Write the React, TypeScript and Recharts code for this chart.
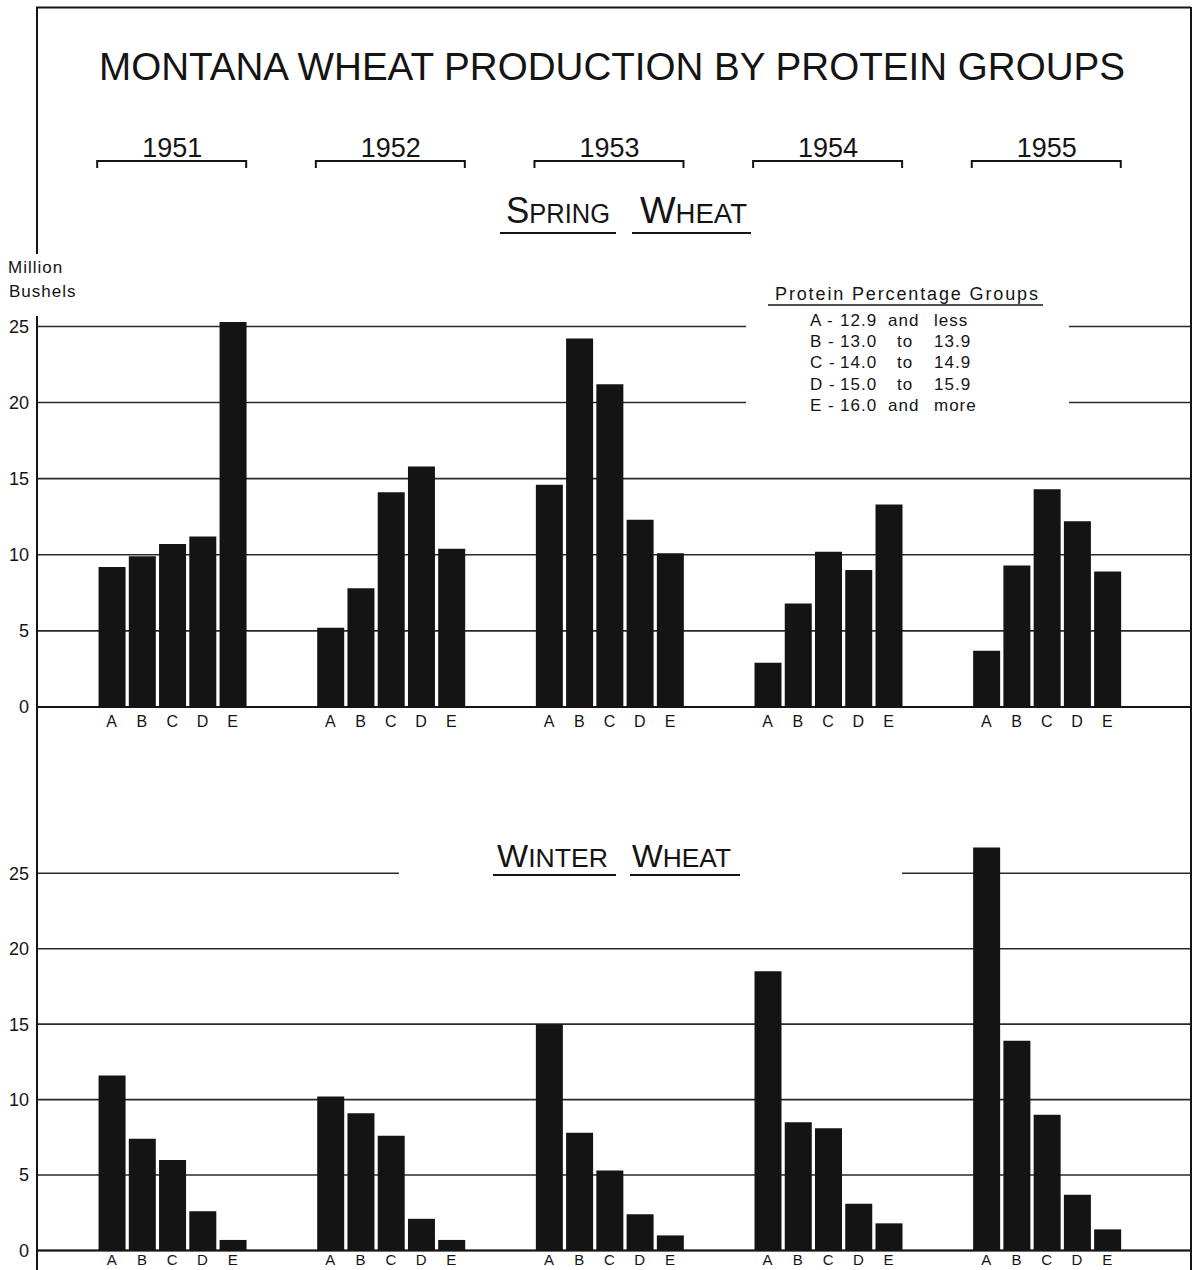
import React from "react";
import { BarChart, Bar, XAxis, YAxis, CartesianGrid } from "recharts";

const YEARS = ["1951", "1952", "1953", "1954", "1955"];
const GROUPS = ["A", "B", "C", "D", "E"];
const Y_TICKS = [0, 5, 10, 15, 20, 25];

// million bushels, groups A..E for each year
const SPRING_1951 = [9.2, 9.9, 10.7, 11.2, 25.3];
const SPRING_1952 = [5.2, 7.8, 14.1, 15.8, 10.4];
const SPRING_1953 = [14.6, 24.2, 21.2, 12.3, 10.1];
const SPRING_1954 = [2.9, 6.8, 10.2, 9.0, 13.3];
const SPRING_1955 = [3.7, 9.3, 14.3, 12.2, 8.9];

const WINTER_1951 = [11.6, 7.4, 6.0, 2.6, 0.7];
const WINTER_1952 = [10.2, 9.1, 7.6, 2.1, 0.7];
const WINTER_1953 = [15.0, 7.8, 5.3, 2.4, 1.0];
const WINTER_1954 = [18.5, 8.5, 8.1, 3.1, 1.8];
const WINTER_1955 = [26.7, 13.9, 9.0, 3.7, 1.4];

const LEGEND_TITLE = "Protein Percentage Groups";
const LEGEND_ROWS = [
  ["A -", "12.9", "and", "less"],
  ["B -", "13.0", "to", "13.9"],
  ["C -", "14.0", "to", "14.9"],
  ["D -", "15.0", "to", "15.9"],
  ["E -", "16.0", "and", "more"],
];

const SPRING = [SPRING_1951, SPRING_1952, SPRING_1953, SPRING_1954, SPRING_1955];
const WINTER = [WINTER_1951, WINTER_1952, WINTER_1953, WINTER_1954, WINTER_1955];

const FONT = '"Liberation Sans", Arial, sans-serif';
const INK = "#141414";

// x layout: bars one unit apart, year groups STEP units apart
const STEP = 7.228;
const X_MIN = -2.469;
const X_MAX = 35.68;
const PLOT_LEFT = 37;
const PLOT_RIGHT = 1191;
const BAR = 27;

const px = (v: number) => PLOT_LEFT + ((v - X_MIN) * (PLOT_RIGHT - PLOT_LEFT)) / (X_MAX - X_MIN);

const toRows = (series: number[][]) =>
  series.flatMap((vals, g) =>
    vals.map((v, i) => ({ x: g * STEP + i, v, year: YEARS[g], group: GROUPS[i] }))
  );

const springRows = toRows(SPRING);
const winterRows = toRows(WINTER);
const xTicks = springRows.map((r) => r.x);

type PanelProps = {
  rows: any[];
  top: number;
  height: number;
  axisHeight: number;
  yMax: number;
  letterSize: number;
  letterGap: number;
};

const Panel = ({ rows, top, height, axisHeight, yMax, letterSize, letterGap }: PanelProps) => (
  <div style={{ position: "absolute", left: 0, top }}>
    <BarChart width={1197} height={height} data={rows} margin={{ top: 0, right: 1197 - PLOT_RIGHT, bottom: 0, left: 0 }}>
      <CartesianGrid vertical={false} syncWithTicks stroke="#2a2a2a" strokeWidth={1.6} />
      <XAxis
        dataKey="x"
        type="number"
        domain={[X_MIN, X_MAX]}
        ticks={xTicks}
        interval={0}
        allowDataOverflow
        height={axisHeight}
        tickFormatter={(_v: number, i: number) => GROUPS[i % 5]}
        axisLine={{ stroke: INK, strokeWidth: 2 }}
        tickLine={false}
        tickSize={2}
        tickMargin={letterGap}
        tick={{ fill: INK, fontSize: letterSize, fontFamily: FONT }}
      />
      <YAxis
        type="number"
        domain={[0, yMax]}
        ticks={Y_TICKS}
        interval={0}
        width={PLOT_LEFT}
        axisLine={false}
        tickLine={false}
        tick={{ fill: INK, fontSize: 18, fontFamily: FONT }}
      />
      <Bar dataKey="v" fill={INK} barSize={BAR} isAnimationActive={false} />
    </BarChart>
  </div>
);

const SmallCaps = ({ x, y, w, big, rest, bigSize, smallSize }: any) => (
  <text x={x} y={y} textLength={w} lengthAdjust="spacingAndGlyphs" fill={INK} fontFamily={FONT}>
    <tspan fontSize={bigSize}>{big}</tspan>
    <tspan fontSize={smallSize}>{rest}</tspan>
  </text>
);

export default function App() {
  return (
    <div style={{ position: "absolute", left: 0, top: 0, width: 1197, height: 1270, background: "#fff", overflow: "hidden" }}>
      <Panel rows={springRows} top={296} height={441} axisHeight={30} yMax={27} letterSize={16} letterGap={7} />
      <Panel rows={winterRows} top={828} height={442} axisHeight={19.5} yMax={28} letterSize={15} letterGap={2} />

      <svg width={1197} height={1270} style={{ position: "absolute", left: 0, top: 0, pointerEvents: "none" }}>
        {/* gaps in the gridlines behind legend and winter title */}
        <rect x={746} y={312} width={323} height={104} fill="#fff" />
        <rect x={399} y={864} width={503} height={16} fill="#fff" />

        {/* frame */}
        <g stroke={INK} strokeWidth={2} fill="none">
          <line x1={36} y1={7.5} x2={1191} y2={7.5} />
          <line x1={37} y1={7} x2={37} y2={254} />
          <line x1={37} y1={316} x2={37} y2={1270} />
          <line x1={1191} y1={7} x2={1191} y2={1270} />
        </g>

        <text x={99} y={80} fontSize={38} fill={INK} fontFamily={FONT} textLength={1026} lengthAdjust="spacingAndGlyphs">
          MONTANA WHEAT PRODUCTION BY PROTEIN GROUPS
        </text>

        {YEARS.map((yr, g) => {
          const l = px(g * STEP) - BAR / 2 - 1;
          const r = px(g * STEP + 4) + BAR / 2;
          const c = px(g * STEP + 2);
          return (
            <g key={yr}>
              <text x={c} y={156.5} textAnchor="middle" fontSize={27} fill={INK} fontFamily={FONT} textLength={60} lengthAdjust="spacingAndGlyphs">
                {yr}
              </text>
              <polyline points={`${l},168 ${l},161 ${r},161 ${r},168`} fill="none" stroke={INK} strokeWidth={2} />
            </g>
          );
        })}

        <SmallCaps x={506} y={223} w={104} big="S" rest="PRING" bigSize={37} smallSize={27} />
        <SmallCaps x={640} y={223} w={107} big="W" rest="HEAT" bigSize={37} smallSize={27} />
        <line x1={500} y1={233} x2={616} y2={233} stroke={INK} strokeWidth={2} />
        <line x1={632} y1={233} x2={751} y2={233} stroke={INK} strokeWidth={2} />

        <SmallCaps x={497} y={867} w={111} big="W" rest="INTER" bigSize={31} smallSize={25} />
        <SmallCaps x={632} y={867} w={99} big="W" rest="HEAT" bigSize={31} smallSize={25} />
        <line x1={493} y1={875} x2={616} y2={875} stroke={INK} strokeWidth={2} />
        <line x1={630} y1={875} x2={740} y2={875} stroke={INK} strokeWidth={2} />

        <text x={8} y={273} fontSize={17} fill={INK} fontFamily={FONT} letterSpacing={1}>Million</text>
        <text x={9} y={297} fontSize={17} fill={INK} fontFamily={FONT} letterSpacing={1}>Bushels</text>

        <text x={775} y={300} fontSize={18} fill={INK} fontFamily={FONT} textLength={263} lengthAdjust="spacing">
          {LEGEND_TITLE}
        </text>
        <line x1={768} y1={305} x2={1043} y2={305} stroke={INK} strokeWidth={1.6} />
        {LEGEND_ROWS.map((row, k) => {
          const y = 326 + k * 21.2;
          return (
            <text key={row[0]} y={y} fontSize={17} fill={INK} fontFamily={FONT} letterSpacing={1}>
              <tspan x={810}>{row[0]}</tspan>
              <tspan x={840}>{row[1]}</tspan>
              <tspan x={row[2] === "and" ? 888 : 897}>{row[2]}</tspan>
              <tspan x={934}>{row[3]}</tspan>
            </text>
          );
        })}
      </svg>
    </div>
  );
}
